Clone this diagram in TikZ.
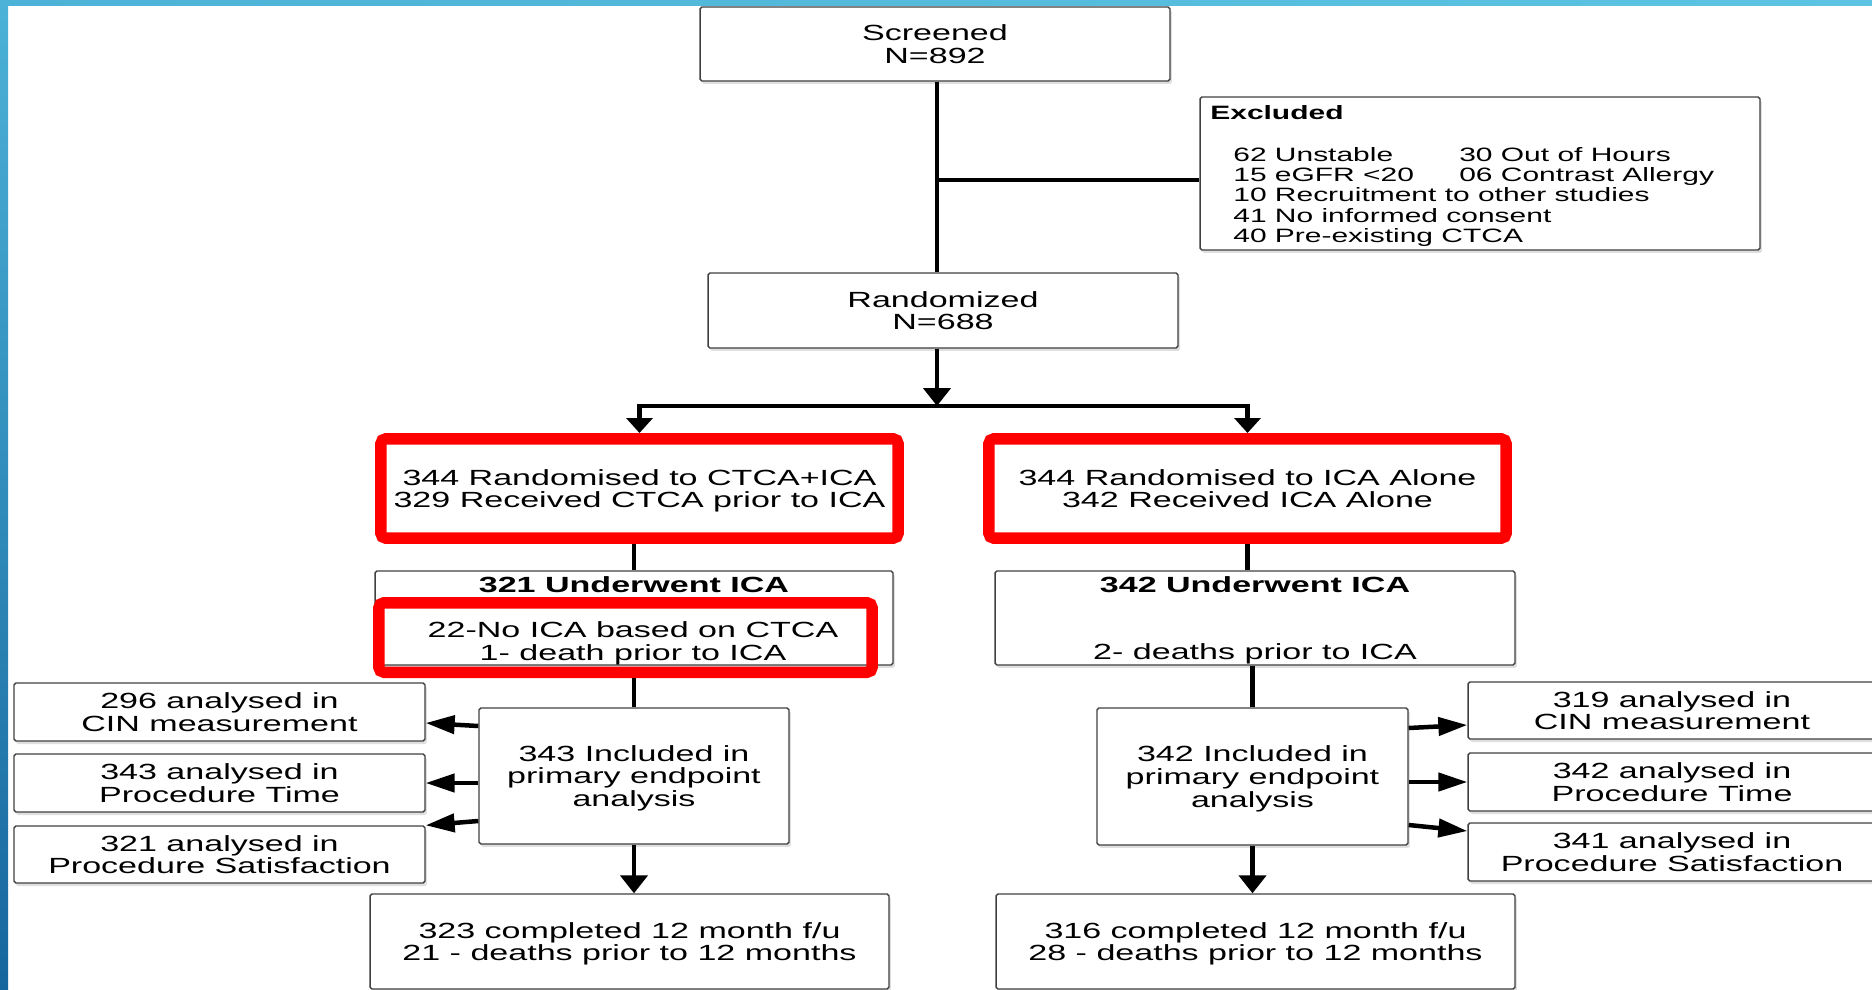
\documentclass[tikz,border=0pt]{standalone}
\usepackage{fontspec}
\setmainfont{Liberation Sans}[FakeStretch=1.55]
\usetikzlibrary{arrows.meta,positioning,shadows}
\definecolor{bandlight}{RGB}{76,178,215}
\definecolor{bandright}{RGB}{92,196,226}
\definecolor{banddark}{RGB}{22,102,158}
\tikzstyle{box} = [rectangle, rounded corners=1pt, draw=black!75, line width=0.8pt, fill=white, text centered, align=center, inner sep=0pt, text depth=0pt, font=\fontsize{12.5}{12.9}\selectfont, drop shadow={shadow xshift=0.04cm, shadow yshift=-0.06cm, opacity=0.25}]
\tikzstyle{redbox} = [rectangle, rounded corners=3pt, draw=red, line width=0.23cm, text centered, align=center, inner sep=0pt, text depth=0pt, font=\fontsize{12.5}{12.9}\selectfont]
\tikzstyle{plain} = [inner sep=0pt, align=center, font=\fontsize{12.5}{12.9}\selectfont]
\tikzstyle{head} = [inner sep=0pt, font=\fontsize{12.5}{12.9}\selectfont\bfseries]
\tikzstyle{small} = [inner sep=0pt, font=\fontsize{11}{11.6}\selectfont]
\tikzstyle{smallhead} = [inner sep=0pt, font=\fontsize{11}{11.6}\selectfont\bfseries]
\tikzstyle{line} = [line width=0.09cm]
\tikzstyle{arrow} = [line width=0.09cm, -{Triangle[length=0.36cm,width=0.54cm]}]
\tikzstyle{twoway} = [line width=0.09cm, {Triangle[length=0.3cm,width=0.52cm]}-{Triangle[length=0.3cm,width=0.52cm]}]
\tikzstyle{sidearrow} = [line width=0.09cm, -{Triangle[length=0.58cm,width=0.36cm]}]

\begin{document}
\begin{tikzpicture}[x=0.02cm, y=-0.02cm]
\useasboundingbox (0,0) rectangle (1872,990);
% slide frame
\shade [left color=bandlight, right color=bandright] (0,0) rectangle (1872,6);
\shade [top color=bandlight, bottom color=banddark] (0,0) rectangle (8,990);

% top part
\node (scr) [box, minimum width=9.4cm, minimum height=1.48cm] at (935,44) {Screened\\N=892};
\node (excl) [box, minimum width=11.2cm, minimum height=3.06cm] at (1480,173.5) {};
\node (exclhead) [smallhead, anchor=west] at (1210,113) {Excluded};
\node (excllist) [small, anchor=west, align=left] at (1233,197) {\makebox[4.52cm][l]{62 Unstable}30 Out of Hours\\\makebox[4.52cm][l]{15 eGFR <20}06 Contrast Allergy\\10 Recruitment to other studies\\41 No informed consent\\40 Pre-existing CTCA};
\node (rand) [box, minimum width=9.4cm, minimum height=1.5cm] at (943,310.5) {Randomized\\N=688};
\coordinate (exjoin) at (937,180);
\coordinate (split) at (937,406);

% two arms
\node (ctca) [redbox, minimum width=10.35cm, minimum height=1.99cm] at (639.5,488.5) {344 Randomised to CTCA+ICA\\329 Received CTCA prior to ICA};
\node (icaonly) [redbox, minimum width=10.35cm, minimum height=1.99cm] at (1247.5,488.5) {344 Randomised to ICA Alone\\342 Received ICA Alone};
\node (undL) [box, minimum width=10.36cm, minimum height=1.88cm] at (634,618) {};
\node (undLhead) [head, below=0.12cm of undL.north] {321 Underwent ICA};
\node (noica) [redbox, minimum width=9.87cm, minimum height=1.39cm] at (625.5,637.5) {};
\node (noicatxt) [plain, text depth=0pt] at (633,641) {22-No ICA based on CTCA\\1- death prior to ICA};
\node (undR) [box, minimum width=10.4cm, minimum height=1.88cm] at (1255,618) {};
\node (undRhead) [head, below=0.12cm of undR.north] {342 Underwent ICA};
\node (undRtxt) [plain, above=0.02cm of undR.south] {2- deaths prior to ICA};

% analysis
\node (inclL) [box, minimum width=6.2cm, minimum height=2.72cm] at (634,776) {343 Included in\\primary endpoint\\analysis};
\node (inclR) [box, minimum width=6.22cm, minimum height=2.74cm] at (1252.5,776.5) {342 Included in\\primary endpoint\\analysis};
\node (cinL) [box, minimum width=8.22cm, minimum height=1.16cm] at (219.5,712) {296 analysed in\\CIN measurement};
\node (timeL) [box, minimum width=8.22cm, minimum height=1.16cm] at (219.5,783) {343 analysed in\\Procedure Time};
\node (satL) [box, minimum width=8.22cm, minimum height=1.14cm] at (219.5,854.5) {321 analysed in\\Procedure Satisfaction};
\node (cinR) [box, minimum width=8.16cm, minimum height=1.14cm] at (1672,710.5) {319 analysed in\\CIN measurement};
\node (timeR) [box, minimum width=8.16cm, minimum height=1.16cm] at (1672,782) {342 analysed in\\Procedure Time};
\node (satR) [box, minimum width=8.16cm, minimum height=1.16cm] at (1672,852) {341 analysed in\\Procedure Satisfaction};
\node (compL) [box, minimum width=10.38cm, minimum height=1.9cm] at (629.5,941.5) {323 completed 12 month f/u\\21 - deaths prior to 12 months};
\node (compR) [box, minimum width=10.38cm, minimum height=1.9cm] at (1255.5,941.5) {316 completed 12 month f/u\\28 - deaths prior to 12 months};

% connectors
\draw [line] (scr.south -| exjoin) -- (rand.north -| exjoin);
\draw [line] (exjoin) -- (excl.west |- exjoin);
\draw [arrow] (rand.south -| split) -- (split);
\draw [twoway] (ctca.north) -- (ctca.north |- split) -- (icaonly.north |- split) -- (icaonly.north);
\draw [line] (undL.north |- ctca.south) -- (undL.north);
\draw [line] (icaonly.south) -- (icaonly.south |- undR.north);
\draw [line] (inclL.north |- noica.south) -- (inclL.north);
\draw [line] (inclR.north |- undR.south) -- (inclR.north);
\draw [sidearrow] ([yshift=1.0cm]inclL.west) -- ([yshift=-0.22cm]cinL.east);
\draw [sidearrow] (inclL.west |- timeL.east) -- (timeL.east);
\draw [sidearrow] ([yshift=-0.9cm]inclL.west) -- (satL.north east);
\draw [sidearrow] ([yshift=0.97cm]inclR.east) -- ([yshift=-0.29cm]cinR.west);
\draw [sidearrow] (inclR.east |- timeR.west) -- (timeR.west);
\draw [sidearrow] ([yshift=-0.97cm]inclR.east) -- ([yshift=0.42cm]satR.west);
\draw [arrow] (inclL.south) -- (inclL.south |- compL.north);
\draw [arrow] (inclR.south) -- (inclR.south |- compR.north);
\end{tikzpicture}
\end{document}
